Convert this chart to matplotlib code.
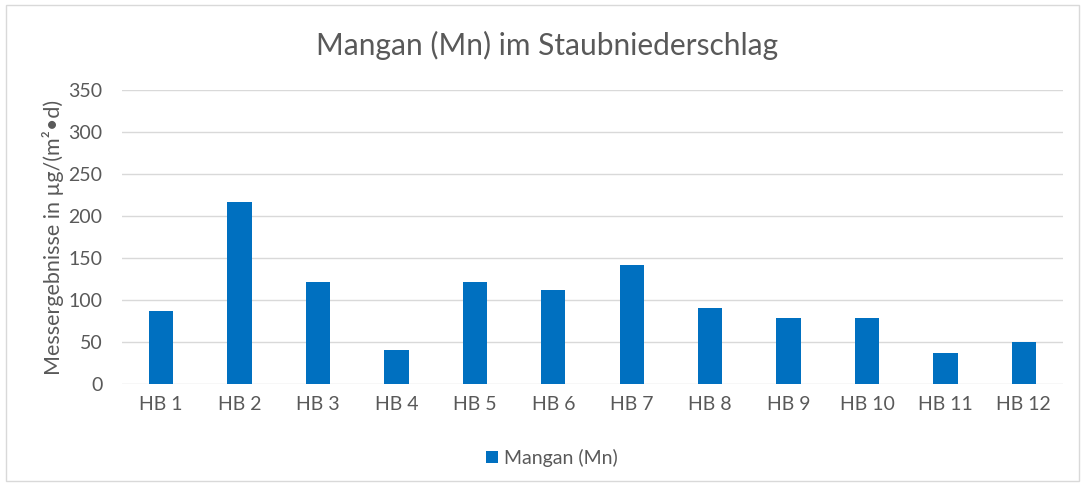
import matplotlib
matplotlib.use("Agg")
import matplotlib.pyplot as plt
from matplotlib.patches import Rectangle

categories = ["HB 1", "HB 2", "HB 3", "HB 4", "HB 5", "HB 6",
              "HB 7", "HB 8", "HB 9", "HB 10", "HB 11", "HB 12"]
values = [87, 217, 121, 40, 121, 112, 142, 91, 79, 78, 37, 50]
yticks = [0, 50, 100, 150, 200, 250, 300, 350]
series_name = "Mangan (Mn)"
title = "Mangan (Mn) im Staubniederschlag"
ylabel = "Messergebnisse in µg/(m²•d)"

plt.rcParams['font.family'] = ['Lato', 'DejaVu Sans']
W, H = 1085, 486
fig = plt.figure(figsize=(W / 100, H / 100), dpi=100)
ax = fig.add_axes([122 / W, 1 - 384 / H, (1063 - 122) / W, (384 - 90) / H])

gray = "#595959"
bars = ax.bar(range(len(categories)), values, width=0.31, color="#0070C0",
              label=series_name, zorder=3)
ax.set_xlim(-0.5, len(categories) - 0.5)
ax.set_ylim(0, 350)
ax.set_yticks(yticks)
ax.set_xticks(range(len(categories)))
ax.set_xticklabels(categories)
ax.tick_params(axis='both', length=0, labelsize=14, colors=gray)
ax.tick_params(axis='x', pad=9)
ax.tick_params(axis='y', pad=14)
for s in ax.spines.values():
    s.set_visible(False)
ax.grid(axis='y', color="#d9d9d9", linewidth=1, zorder=0)

ax.set_ylabel(ylabel, fontsize=15.5, color=gray, labelpad=3)
fig.text(547 / W, 1 - 45 / H, title, ha='center', va='center', fontsize=21.5, color=gray)

leg = fig.legend(handles=[bars], labels=[series_name], loc='center',
                 bbox_to_anchor=(552 / W, 1 - 458 / H), frameon=False,
                 fontsize=14, handlelength=0.6, handleheight=0.6, handletextpad=0.3)
for t in leg.get_texts():
    t.set_color(gray)

fig.patches.append(Rectangle((6 / W, 5 / H), (1079 - 6) / W, (481 - 5) / H,
                             transform=fig.transFigure, fill=False,
                             edgecolor="#d9d9d9", linewidth=1))
fig.savefig("out.png", dpi=100, facecolor="white")
